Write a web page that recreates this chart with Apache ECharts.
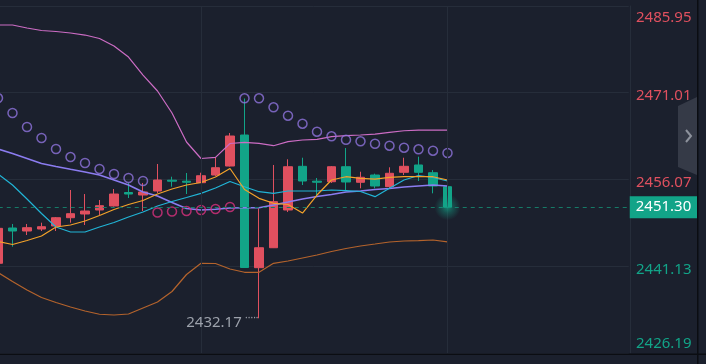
<!DOCTYPE html>
<html><head><meta charset="utf-8">
<script src="https://cdn.jsdelivr.net/npm/echarts@6/dist/echarts.min.js"></script>
<style>html,body{margin:0;padding:0;background:#1b202d;overflow:hidden}#c{width:706px;height:364px}</style>
</head><body><div id="c"></div>
<script>
// ---- data ----
const categories = ['1','2','3','4','5','6','7','8','9','10','11','12','13','14','15','16','17','18','19','20','21','22','23','24','25','26','27','28','29','30','31','32'];
const emptySlots = 12; // blank space to the right of the last candle
const opens  = [2441.64,2447.72,2447.20,2447.54,2448.06,2449.49,2450.13,2450.82,2451.51,2453.83,2453.40,2454.09,2455.95,2455.78,2455.52,2456.84,2458.39,2463.73,2440.88,2444.32,2450.82,2458.34,2455.78,2455.69,2458.27,2455.59,2456.84,2454.83,2457.31,2458.57,2457.24,2454.83];
const closes = [2447.66,2447.20,2447.77,2447.94,2449.49,2450.18,2450.64,2451.56,2453.57,2453.57,2453.92,2455.98,2455.78,2455.60,2456.72,2458.10,2463.56,2440.91,2444.32,2452.25,2458.27,2455.81,2455.60,2458.27,2455.64,2456.45,2454.95,2457.14,2458.34,2457.31,2454.95,2451.30];
const lows   = [2441.52,2444.50,2446.51,2447.20,2447.20,2448.63,2448.23,2449.96,2451.42,2452.88,2450.64,2453.74,2454.83,2453.57,2455.47,2456.67,2458.31,2440.83,2432.17,2444.27,2450.47,2455.12,2453.06,2455.47,2454.26,2454.55,2454.55,2454.43,2456.84,2455.81,2453.69,2451.30];
const highs  = [2447.89,2448.41,2448.41,2448.63,2449.61,2454.26,2453.57,2452.54,2454.43,2455.47,2455.47,2458.74,2456.55,2457.19,2457.24,2459.94,2464.08,2470.02,2451.07,2458.57,2459.55,2459.82,2456.33,2458.39,2461.49,2457.41,2457.07,2458.17,2459.82,2460.00,2457.70,2455.29];
const maFast  = [2445.39,2444.87,2445.56,2446.34,2447.89,2448.23,2448.92,2449.87,2450.90,2451.76,2452.45,2453.57,2454.43,2455.12,2455.55,2456.50,2457.96,2454.35,2452.83,2451.97,2451.76,2450.30,2453.40,2455.98,2456.55,2456.28,2456.15,2456.45,2456.55,2456.55,2456.55,2455.98];
const maMid   = [2457.02,2455.12,2452.71,2450.21,2447.89,2447.03,2447.03,2447.89,2448.66,2449.61,2450.47,2451.51,2452.28,2452.97,2453.69,2454.61,2455.72,2454.83,2453.97,2453.69,2454.09,2454.09,2454.09,2454.26,2454.17,2454.00,2453.11,2454.55,2455.98,2456.76,2456.41,2455.81];
const bollMid = [2461.32,2460.55,2459.69,2458.82,2458.31,2457.83,2457.36,2456.84,2455.98,2455.12,2453.92,2453.23,2452.11,2451.07,2450.82,2450.94,2451.16,2451.21,2451.21,2451.68,2452.19,2452.71,2453.14,2453.49,2453.92,2454.09,2454.35,2454.52,2454.78,2454.95,2455.12,2454.95];
const bollUp  = [2482.68,2482.68,2482.16,2481.73,2481.56,2481.30,2480.95,2480.35,2479.06,2477.16,2474.06,2471.31,2467.52,2462.53,2459.69,2459.89,2462.27,2462.48,2462.30,2461.89,2462.58,2462.87,2462.99,2463.44,2463.61,2463.73,2463.90,2464.20,2464.47,2464.59,2464.59,2464.59];
const bollLow = [2440.05,2438.50,2437.04,2435.75,2434.89,2434.11,2433.42,2432.86,2432.73,2432.91,2433.94,2434.97,2436.78,2439.71,2441.64,2441.60,2440.66,2440.09,2440.09,2441.64,2442.03,2442.55,2443.07,2443.67,2444.19,2444.62,2444.96,2445.31,2445.48,2445.56,2445.65,2445.34];
const sarAbove = [2470.10,2467.52,2465.11,2463.22,2461.32,2459.94,2458.91,2457.88,2457.02,2456.33,2455.81,null,null,null,null,null,null,2470.05,2470.05,2468.50,2467.06,2465.68,2464.30,2463.51,2462.92,2462.65,2462.23,2461.89,2461.55,2461.27,2461.03,2460.63];
const sarBelow = [null,null,null,null,null,null,null,null,null,null,null,2450.39,2450.56,2450.64,2450.82,2450.99,2451.33,null,null,null,null,null,null,null,null,null,null,null,null,null,null,null];
const yMin = 2426.19, yMax = 2485.95, yStep = 14.94;
const lastPrice = 2451.30;
const lowPrice = 2432.17, lowIndex = 18;
const gridLineIdx = [14, 31];

// ---- style ----
const RED = '#e0505f', GREEN = '#12a488', GRID = '#262d3a', FONT = 'Noto Sans';
const allCats = categories.concat(Array.from({length: emptySlots}, (_, i) => 'pad' + i));
const candleData = opens.map((o, i) => [o, closes[i], lows[i], highs[i]]);
const toSeries = a => a.map(v => v == null ? '-' : v);

const chart = echarts.init(document.getElementById('c'), null, {renderer: 'canvas'});
const lineSeries = (name, data, color, width) => ({
  name, type: 'line', data, showSymbol: false, symbol: 'none', z: 3,
  lineStyle: {color, width}, silent: true, animation: false
});
const sarSeries = (name, data, color) => ({
  name, type: 'scatter', data: toSeries(data), symbol: 'circle', symbolSize: 9, z: 4,
  itemStyle: {color: 'rgba(0,0,0,0)', borderColor: color, borderWidth: 1.5}, silent: true, animation: false
});

chart.setOption({
  backgroundColor: '#1b202d',
  animation: false,
  grid: {left: -9.25, top: 6, width: 638, height: 347, outerBoundsMode: 'none', containLabel: false},
  xAxis: {
    type: 'category', data: allCats, boundaryGap: true,
    axisLine: {show: false}, axisTick: {show: false}, axisLabel: {show: false}, splitLine: {show: false}
  },
  yAxis: {
    type: 'value', position: 'right', offset: 1.25, min: yMin, max: yMax, interval: yStep, scale: true,
    axisLine: {show: true, lineStyle: {color: GRID}},
    axisTick: {show: false},
    splitLine: {show: true, lineStyle: {color: GRID, width: 1}},
    axisLabel: {
      margin: 6, fontFamily: FONT, fontSize: 15,
      formatter: v => {
        const st = v > lastPrice ? 'r' : 'g';
        let sfx = '';
        if (Math.abs(v - yMax) < 1e-6) sfx = 'T';
        else if (Math.abs(v - yMin) < 1e-6) sfx = 'B';
        return '{' + st + sfx + '|' + v.toFixed(2) + '}';
      },
      rich: {
        r: {color: RED, fontFamily: FONT, fontSize: 15, padding: [6, 0, 0, 0]},
        g: {color: GREEN, fontFamily: FONT, fontSize: 15, padding: [6, 0, 0, 0]},
        rT: {color: RED, fontFamily: FONT, fontSize: 15, padding: [24, 0, 0, 0]},
        gB: {color: GREEN, fontFamily: FONT, fontSize: 15, padding: [0, 0, 18, 0]}
      }
    }
  },
  series: [
    {
      type: 'line', data: [], z: 0, silent: true,
      markLine: {
        symbol: ['none', 'none'], silent: true, animation: false, label: {show: false},
        lineStyle: {color: GRID, type: 'solid', width: 1},
        data: gridLineIdx.map(i => ({xAxis: allCats[i]}))
      }
    },
    {
      type: 'candlestick', data: candleData, barWidth: 9, z: 2,
      itemStyle: {color: RED, color0: GREEN, borderColor: RED, borderColor0: GREEN, borderWidth: 1},
      markLine: {
        symbol: ['none', 'none'], silent: true, animation: false,
        data: [{yAxis: lastPrice}],
        lineStyle: {type: [4, 4], color: '#167a67', width: 1},
        label: {
          show: true, position: 'end', distance: 1, formatter: () => lastPrice.toFixed(2),
          color: '#ffffff', backgroundColor: GREEN, padding: [2, 6, 2, 6],
          fontSize: 15, fontFamily: FONT, lineHeight: 18
        }
      },
      markPoint: {
        silent: true, animation: false,
        data: [
          {
            coord: [lowIndex, lowPrice], symbol: 'rect', symbolSize: [1, 1],
            itemStyle: {color: 'rgba(0,0,0,0)'},
            label: {
              show: true, position: 'left', distance: 0, offset: [0, 4],
              formatter: '{v|' + lowPrice.toFixed(2) + '} {d|·····}',
              rich: {
                v: {color: '#9ca1ab', fontFamily: FONT, fontSize: 15, lineHeight: 18},
                d: {color: '#9ca1ab', fontFamily: FONT, fontSize: 10, verticalAlign: 'top', lineHeight: 10}
              }
            }
          },
          {
            coord: [categories.length - 1, lastPrice], symbol: 'circle', symbolSize: 26,
            itemStyle: {color: {type: 'radial', x: 0.5, y: 0.5, r: 0.5, colorStops: [
              {offset: 0, color: 'rgba(18,164,136,0.75)'},
              {offset: 0.45, color: 'rgba(18,164,136,0.35)'},
              {offset: 1, color: 'rgba(18,164,136,0)'}]}},
            label: {show: false}
          }
        ]
      }
    },
    lineSeries('BOLL UP', bollUp, '#cc6cc4', 1.2),
    lineSeries('BOLL LOW', bollLow, '#b4632c', 1.2),
    lineSeries('BOLL MID', bollMid, '#8b7cf0', 1.6),
    lineSeries('MA mid', maMid, '#21b4d6', 1.2),
    lineSeries('MA fast', maFast, '#f3a22a', 1.2),
    sarSeries('SAR above', sarAbove, '#8e73dc'),
    sarSeries('SAR below', sarBelow, '#d8317d')
  ],
  graphic: [
    {type: 'rect', left: 0, top: 353.5, shape: {width: 706, height: 1.5}, style: {fill: '#0b0d12'}, silent: true, z: 10},
    {type: 'rect', left: 697, top: 0, shape: {width: 1.5, height: 364}, style: {fill: '#0b0d12'}, silent: true, z: 10},
    {type: 'polygon', shape: {points: [[678, 106], [697, 97], [697, 175], [678, 167]]}, style: {fill: '#353a47'}, silent: true, z: 10},
    {type: 'polyline', shape: {points: [[686, 130], [691, 136], [686, 142]]}, style: {stroke: '#8d929c', lineWidth: 2, fill: null}, silent: true, z: 11}
  ]
});
</script></body></html>
